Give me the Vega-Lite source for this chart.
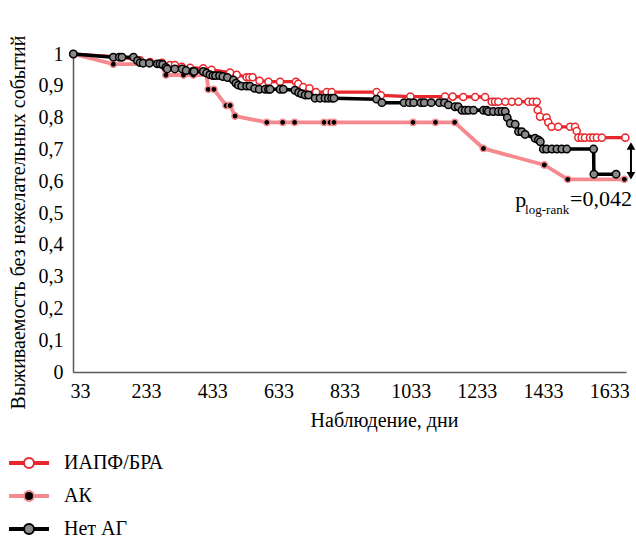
{
"$schema": "https://vega.github.io/schema/vega-lite/v6.json",
"width": 553, "height": 318,
"autosize": "none",
"padding": {"left": 73, "top": 54, "right": 10, "bottom": 166},
"background": "white",
"config": {"view": {"stroke": null}, "font": "Liberation Serif",
  "text": {"font": "Liberation Serif"},
  "legend": {"labelFont": "Liberation Serif", "titleFont": "Liberation Serif"},
  "axis": {"labelFont": "Liberation Serif", "titleFont": "Liberation Serif", "labelColor": "#000", "titleColor": "#000", "grid": false, "ticks": false, "domainColor": "#595959", "domainWidth": 1.5, "labelFontSize": 20, "titleFontSize": 20, "titleFontWeight": "normal"}},
"datasets": {
"km": [
{"g":"ИАПФ/БРА","d":13,"s":1.0,"c":1},{"g":"ИАПФ/БРА","d":160,"s":0.99,"c":1},{"g":"ИАПФ/БРА","d":215,"s":0.98,"c":1},{"g":"ИАПФ/БРА","d":245,"s":0.975,"c":1},{"g":"ИАПФ/БРА","d":281,"s":0.972,"c":1},{"g":"ИАПФ/БРА","d":305,"s":0.965,"c":1},{"g":"ИАПФ/БРА","d":320,"s":0.965,"c":1},{"g":"ИАПФ/БРА","d":341,"s":0.96,"c":1},{"g":"ИАПФ/БРА","d":366,"s":0.957,"c":1},{"g":"ИАПФ/БРА","d":406,"s":0.955,"c":1},{"g":"ИАПФ/БРА","d":431,"s":0.95,"c":1},{"g":"ИАПФ/БРА","d":487,"s":0.942,"c":1},{"g":"ИАПФ/БРА","d":507,"s":0.935,"c":1},{"g":"ИАПФ/БРА","d":537,"s":0.927,"c":1},{"g":"ИАПФ/БРА","d":545,"s":0.927,"c":1},{"g":"ИАПФ/БРА","d":555,"s":0.927,"c":1},{"g":"ИАПФ/БРА","d":576,"s":0.916,"c":1},{"g":"ИАПФ/БРА","d":603,"s":0.913,"c":1},{"g":"ИАПФ/БРА","d":638,"s":0.913,"c":1},{"g":"ИАПФ/БРА","d":686,"s":0.913,"c":1},{"g":"ИАПФ/БРА","d":693,"s":0.906,"c":1},{"g":"ИАПФ/БРА","d":708,"s":0.896,"c":1},{"g":"ИАПФ/БРА","d":727,"s":0.892,"c":1},{"g":"ИАПФ/БРА","d":747,"s":0.88,"c":1},{"g":"ИАПФ/БРА","d":779,"s":0.88,"c":1},{"g":"ИАПФ/БРА","d":794,"s":0.88,"c":1},{"g":"ИАПФ/БРА","d":930,"s":0.88,"c":1},{"g":"ИАПФ/БРА","d":943,"s":0.87,"c":1},{"g":"ИАПФ/БРА","d":1032,"s":0.866,"c":1},{"g":"ИАПФ/БРА","d":1137,"s":0.866,"c":1},{"g":"ИАПФ/БРА","d":1160,"s":0.866,"c":1},{"g":"ИАПФ/БРА","d":1192,"s":0.865,"c":1},{"g":"ИАПФ/БРА","d":1228,"s":0.865,"c":1},{"g":"ИАПФ/БРА","d":1258,"s":0.865,"c":1},{"g":"ИАПФ/БРА","d":1278,"s":0.85,"c":1},{"g":"ИАПФ/БРА","d":1288,"s":0.85,"c":1},{"g":"ИАПФ/БРА","d":1298,"s":0.85,"c":1},{"g":"ИАПФ/БРА","d":1319,"s":0.85,"c":1},{"g":"ИАПФ/БРА","d":1339,"s":0.85,"c":1},{"g":"ИАПФ/БРА","d":1359,"s":0.85,"c":1},{"g":"ИАПФ/БРА","d":1389,"s":0.85,"c":1},{"g":"ИАПФ/БРА","d":1402,"s":0.85,"c":1},{"g":"ИАПФ/БРА","d":1414,"s":0.85,"c":1},{"g":"ИАПФ/БРА","d":1417,"s":0.824,"c":1},{"g":"ИАПФ/БРА","d":1424,"s":0.803,"c":1},{"g":"ИАПФ/БРА","d":1444,"s":0.8,"c":1},{"g":"ИАПФ/БРА","d":1449,"s":0.785,"c":1},{"g":"ИАПФ/БРА","d":1459,"s":0.771,"c":1},{"g":"ИАПФ/БРА","d":1479,"s":0.771,"c":1},{"g":"ИАПФ/БРА","d":1515,"s":0.771,"c":1},{"g":"ИАПФ/БРА","d":1530,"s":0.771,"c":1},{"g":"ИАПФ/БРА","d":1535,"s":0.758,"c":1},{"g":"ИАПФ/БРА","d":1540,"s":0.737,"c":1},{"g":"ИАПФ/БРА","d":1550,"s":0.737,"c":1},{"g":"ИАПФ/БРА","d":1560,"s":0.737,"c":1},{"g":"ИАПФ/БРА","d":1575,"s":0.737,"c":1},{"g":"ИАПФ/БРА","d":1585,"s":0.737,"c":1},{"g":"ИАПФ/БРА","d":1596,"s":0.737,"c":1},{"g":"ИАПФ/БРА","d":1611,"s":0.737,"c":1},{"g":"ИАПФ/БРА","d":1682,"s":0.737,"c":1},
{"g":"АК","d":13,"s":1.0,"c":1},{"g":"АК","d":134,"s":0.968,"c":1},{"g":"АК","d":278,"s":0.968,"c":0},{"g":"АК","d":293,"s":0.934,"c":1},{"g":"АК","d":346,"s":0.934,"c":1},{"g":"АК","d":376,"s":0.934,"c":1},{"g":"АК","d":416,"s":0.934,"c":0},{"g":"АК","d":421,"s":0.889,"c":1},{"g":"АК","d":438,"s":0.889,"c":1},{"g":"АК","d":475,"s":0.838,"c":1},{"g":"АК","d":487,"s":0.838,"c":1},{"g":"АК","d":502,"s":0.805,"c":1},{"g":"АК","d":598,"s":0.785,"c":1},{"g":"АК","d":646,"s":0.785,"c":1},{"g":"АК","d":682,"s":0.785,"c":1},{"g":"АК","d":771,"s":0.785,"c":1},{"g":"АК","d":789,"s":0.785,"c":1},{"g":"АК","d":801,"s":0.785,"c":1},{"g":"АК","d":1040,"s":0.785,"c":1},{"g":"АК","d":1108,"s":0.785,"c":1},{"g":"АК","d":1166,"s":0.785,"c":1},{"g":"АК","d":1253,"s":0.703,"c":1},{"g":"АК","d":1437,"s":0.651,"c":1},{"g":"АК","d":1508,"s":0.606,"c":1},{"g":"АК","d":1679,"s":0.606,"c":1},
{"g":"Нет АГ","d":13,"s":1.0,"c":1},{"g":"Нет АГ","d":134,"s":0.99,"c":1},{"g":"Нет АГ","d":152,"s":0.99,"c":1},{"g":"Нет АГ","d":160,"s":0.99,"c":1},{"g":"Нет АГ","d":195,"s":0.99,"c":1},{"g":"Нет АГ","d":207,"s":0.979,"c":1},{"g":"Нет АГ","d":215,"s":0.973,"c":1},{"g":"Нет АГ","d":224,"s":0.971,"c":1},{"g":"Нет АГ","d":243,"s":0.971,"c":1},{"g":"Нет АГ","d":267,"s":0.969,"c":1},{"g":"Нет АГ","d":275,"s":0.969,"c":1},{"g":"Нет АГ","d":283,"s":0.967,"c":1},{"g":"Нет АГ","d":293,"s":0.958,"c":1},{"g":"Нет АГ","d":297,"s":0.953,"c":1},{"g":"Нет АГ","d":320,"s":0.953,"c":1},{"g":"Нет АГ","d":342,"s":0.953,"c":1},{"g":"Нет АГ","d":354,"s":0.948,"c":1},{"g":"Нет АГ","d":374,"s":0.945,"c":1},{"g":"Нет АГ","d":378,"s":0.945,"c":1},{"g":"Нет АГ","d":406,"s":0.945,"c":1},{"g":"Нет АГ","d":416,"s":0.94,"c":1},{"g":"Нет АГ","d":426,"s":0.935,"c":1},{"g":"Нет АГ","d":435,"s":0.932,"c":1},{"g":"Нет АГ","d":443,"s":0.932,"c":1},{"g":"Нет АГ","d":455,"s":0.932,"c":1},{"g":"Нет АГ","d":465,"s":0.929,"c":1},{"g":"Нет АГ","d":479,"s":0.926,"c":1},{"g":"Нет АГ","d":497,"s":0.918,"c":1},{"g":"Нет АГ","d":505,"s":0.908,"c":1},{"g":"Нет АГ","d":512,"s":0.902,"c":1},{"g":"Нет АГ","d":522,"s":0.899,"c":1},{"g":"Нет АГ","d":537,"s":0.899,"c":1},{"g":"Нет АГ","d":547,"s":0.899,"c":1},{"g":"Нет АГ","d":561,"s":0.892,"c":1},{"g":"Нет АГ","d":575,"s":0.889,"c":1},{"g":"Нет АГ","d":593,"s":0.889,"c":1},{"g":"Нет АГ","d":603,"s":0.889,"c":1},{"g":"Нет АГ","d":608,"s":0.889,"c":1},{"g":"Нет АГ","d":638,"s":0.889,"c":1},{"g":"Нет АГ","d":648,"s":0.889,"c":1},{"g":"Нет АГ","d":683,"s":0.886,"c":1},{"g":"Нет АГ","d":694,"s":0.879,"c":1},{"g":"Нет АГ","d":703,"s":0.875,"c":1},{"g":"Нет АГ","d":714,"s":0.871,"c":1},{"g":"Нет АГ","d":724,"s":0.871,"c":1},{"g":"Нет АГ","d":744,"s":0.861,"c":1},{"g":"Нет АГ","d":759,"s":0.861,"c":1},{"g":"Нет АГ","d":774,"s":0.861,"c":1},{"g":"Нет АГ","d":784,"s":0.861,"c":1},{"g":"Нет АГ","d":794,"s":0.861,"c":1},{"g":"Нет АГ","d":801,"s":0.861,"c":1},{"g":"Нет АГ","d":930,"s":0.858,"c":1},{"g":"Нет АГ","d":946,"s":0.847,"c":1},{"g":"Нет АГ","d":1013,"s":0.847,"c":1},{"g":"Нет АГ","d":1029,"s":0.847,"c":1},{"g":"Нет АГ","d":1042,"s":0.847,"c":1},{"g":"Нет АГ","d":1064,"s":0.847,"c":1},{"g":"Нет АГ","d":1074,"s":0.847,"c":1},{"g":"Нет АГ","d":1095,"s":0.847,"c":1},{"g":"Нет АГ","d":1120,"s":0.847,"c":1},{"g":"Нет АГ","d":1135,"s":0.847,"c":1},{"g":"Нет АГ","d":1147,"s":0.84,"c":1},{"g":"Нет АГ","d":1167,"s":0.834,"c":1},{"g":"Нет АГ","d":1177,"s":0.834,"c":1},{"g":"Нет АГ","d":1188,"s":0.823,"c":1},{"g":"Нет АГ","d":1198,"s":0.823,"c":1},{"g":"Нет АГ","d":1208,"s":0.823,"c":1},{"g":"Нет АГ","d":1223,"s":0.823,"c":1},{"g":"Нет АГ","d":1253,"s":0.823,"c":1},{"g":"Нет АГ","d":1263,"s":0.823,"c":1},{"g":"Нет АГ","d":1268,"s":0.819,"c":1},{"g":"Нет АГ","d":1283,"s":0.819,"c":1},{"g":"Нет АГ","d":1298,"s":0.819,"c":1},{"g":"Нет АГ","d":1309,"s":0.819,"c":1},{"g":"Нет АГ","d":1319,"s":0.819,"c":1},{"g":"Нет АГ","d":1325,"s":0.8,"c":1},{"g":"Нет АГ","d":1334,"s":0.782,"c":1},{"g":"Нет АГ","d":1349,"s":0.779,"c":1},{"g":"Нет АГ","d":1359,"s":0.756,"c":1},{"g":"Нет АГ","d":1369,"s":0.756,"c":1},{"g":"Нет АГ","d":1379,"s":0.747,"c":1},{"g":"Нет АГ","d":1409,"s":0.735,"c":1},{"g":"Нет АГ","d":1419,"s":0.73,"c":1},{"g":"Нет АГ","d":1425,"s":0.724,"c":1},{"g":"Нет АГ","d":1434,"s":0.701,"c":1},{"g":"Нет АГ","d":1444,"s":0.701,"c":1},{"g":"Нет АГ","d":1460,"s":0.701,"c":1},{"g":"Нет АГ","d":1475,"s":0.701,"c":1},{"g":"Нет АГ","d":1490,"s":0.701,"c":1},{"g":"Нет АГ","d":1505,"s":0.701,"c":1},{"g":"Нет АГ","d":1586,"s":0.701,"c":1},{"g":"Нет АГ","d":1587,"s":0.622,"c":1},{"g":"Нет АГ","d":1654,"s":0.622,"c":1}
],
"arrow": [{"d":1699,"s":0.612,"s2":0.716}],
"heads": [{"d":1699,"s":0.711,"k":"up"},{"d":1699,"s":0.617,"k":"down"}],
"txt": [{"t":"p","d":1349,"s":0.52,"k":"main"},{"t":"log-rank","d":1379,"s":0.497,"k":"sub"},{"t":"=0,042","d":1515,"s":0.522,"k":"main"}]
},
"encoding": {
  "x": {"field":"d","type":"quantitative","scale":{"domain":[12,1684],"nice":false,"zero":false},
        "axis":{"title":"Наблюдение, дни","values":[33,233,433,633,833,1033,1233,1433,1633],"format":"d","labelFont":"Liberation Serif","titleFont":"Liberation Serif","labelPadding":9,"labelFlush":false,"titleX":311,"titleY":54,"titleAlign":"center","titleBaseline":"alphabetic","titleAnchor":null}},
  "y": {"field":"s","type":"quantitative","scale":{"domain":[0,1],"nice":false},
        "axis":{"title":"Выживаемость без нежелательных событий","values":[0,0.1,0.2,0.3,0.4,0.5,0.6,0.7,0.8,0.9,1],"labelExpr":"replace(format(datum.value,'.1~f'),'.',',')","labelFont":"Liberation Serif","titleFont":"Liberation Serif","labelPadding":10,"titleAngle":-90,"titleX":-55,"titleY":168,"titleAlign":"center","titleBaseline":"middle","titleAnchor":null}}
},
"layer": [
 {"data":{"name":"km"},"transform":[{"filter":"datum.g==='ИАПФ/БРА'"}],"mark":{"type":"line","strokeWidth":3.2,"clip":false},
  "encoding":{"stroke":{"field":"g","type":"nominal","scale":{"domain":["ИАПФ/БРА","АК","Нет АГ"],"range":["#e8262d","#f5898d","#000000"]},
     "legend":{"title":null,"orient":"none","legendX":-55,"legendY":398,"direction":"vertical","symbolType":"M-2,-0.1L-0.5,-0.1M-2,0.1L-0.5,0.1M0.5,-0.1L2,-0.1M0.5,0.1L2,0.1M-0.5,0A0.5,0.5,0,1,1,0.5,0A0.5,0.5,0,1,1,-0.5,0Z","symbolSize":400,"symbolStrokeWidth":2,"symbolOpacity":1,"labelFont":"Liberation Serif","labelFontSize":20,"labelColor":"#000","labelOffset":24,"rowPadding":12,"padding":0}}}},
 {"data":{"name":"km"},"transform":[{"filter":"datum.g==='ИАПФ/БРА' && datum.c==1"}],"mark":{"type":"point","shape":"circle","filled":true,"opacity":1,"size":50,"strokeWidth":1.5,"clip":false},
  "encoding":{"stroke":{"field":"g","type":"nominal"},"fill":{"field":"g","type":"nominal","scale":{"domain":["ИАПФ/БРА","АК","Нет АГ"],"range":["#ffffff","#000000","#8a8a8a"]},
     "legend":{"title":null,"orient":"none","legendX":-55,"legendY":398,"direction":"vertical","symbolType":"M-2,-0.1L-0.5,-0.1M-2,0.1L-0.5,0.1M0.5,-0.1L2,-0.1M0.5,0.1L2,0.1M-0.5,0A0.5,0.5,0,1,1,0.5,0A0.5,0.5,0,1,1,-0.5,0Z","symbolSize":400,"symbolStrokeWidth":2,"symbolOpacity":1,"labelFont":"Liberation Serif","labelFontSize":20,"labelColor":"#000","labelOffset":24,"rowPadding":12,"padding":0}}}},
 {"data":{"name":"km"},"transform":[{"filter":"datum.g==='АК'"}],"mark":{"type":"line","strokeWidth":3.8,"clip":false},
  "encoding":{"stroke":{"field":"g","type":"nominal"}}},
 {"data":{"name":"km"},"transform":[{"filter":"datum.g==='АК' && datum.c==1"}],"mark":{"type":"point","shape":"circle","filled":true,"opacity":1,"size":40,"strokeWidth":1.5,"clip":false},
  "encoding":{"stroke":{"field":"g","type":"nominal"},"fill":{"field":"g","type":"nominal"}}},
 {"data":{"name":"km"},"transform":[{"filter":"datum.g==='Нет АГ'"}],"mark":{"type":"line","strokeWidth":3.5,"clip":false},
  "encoding":{"stroke":{"field":"g","type":"nominal"}}},
 {"data":{"name":"km"},"transform":[{"filter":"datum.g==='Нет АГ' && datum.c==1"}],"mark":{"type":"point","shape":"circle","filled":true,"opacity":1,"size":55,"strokeWidth":1.5,"clip":false},
  "encoding":{"stroke":{"field":"g","type":"nominal"},"fill":{"field":"g","type":"nominal"}}},
 {"data":{"name":"arrow"},"mark":{"type":"rule","color":"#000","strokeWidth":2,"clip":false},"encoding":{"y2":{"field":"s2"}}},
 {"data":{"name":"heads"},"transform":[{"filter":"datum.k==='up'"}],"mark":{"type":"point","shape":"triangle-up","filled":true,"color":"#000","opacity":1,"size":75,"clip":false},"encoding":{}},
 {"data":{"name":"heads"},"transform":[{"filter":"datum.k==='down'"}],"mark":{"type":"point","shape":"triangle-down","filled":true,"color":"#000","opacity":1,"size":75,"clip":false},"encoding":{}},
 {"data":{"name":"txt"},"transform":[{"filter":"datum.k==='main'"}],"mark":{"type":"text","align":"left","baseline":"alphabetic","font":"Liberation Serif","fontSize":22,"color":"#000","clip":false},"encoding":{"text":{"field":"t"}}},
 {"data":{"name":"txt"},"transform":[{"filter":"datum.k==='sub'"}],"mark":{"type":"text","align":"left","baseline":"alphabetic","font":"Liberation Serif","fontSize":13,"color":"#000","clip":false},"encoding":{"text":{"field":"t"}}}
]
}
